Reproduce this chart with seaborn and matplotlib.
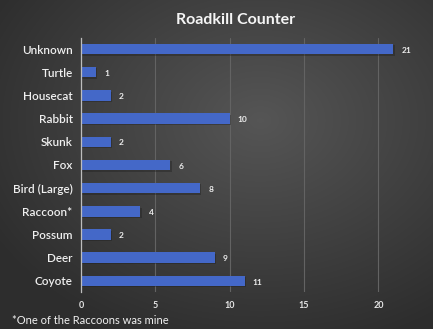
import numpy as np
import pandas as pd
import matplotlib
matplotlib.use("Agg")
import matplotlib.pyplot as plt
import matplotlib.patheffects as pe
import seaborn as sns

animals = ["Unknown", "Turtle", "Housecat", "Rabbit", "Skunk", "Fox",
           "Bird (Large)", "Raccoon*", "Possum", "Deer", "Coyote"]
counts = [21, 1, 2, 10, 2, 6, 8, 4, 2, 9, 11]
x_ticks = [0, 5, 10, 15, 20]
title = "Roadkill Counter"
footnote = "*One of the Raccoons was mine"

df = pd.DataFrame({"animal": animals, "count": counts})

sns.set_theme(style="dark")
plt.rcParams["font.family"] = ["Lato", "DejaVu Sans"]

fig = plt.figure(figsize=(4.33, 3.29), dpi=100)

# background gradient
bg = fig.add_axes([0, 0, 1, 1], zorder=-10)
yy, xx = np.mgrid[0:329, 0:433]
cx, cy = 260, 120
d = np.sqrt(((xx - cx) / 433) ** 2 + ((yy - cy) / 329) ** 2)
val = 0.335 - 0.22 * d
val = np.clip(val, 0.18, 0.34)
img = np.dstack([val, val, val])
bg.imshow(img, aspect="auto", extent=[0, 1, 0, 1])
bg.set_axis_off()

ax = fig.add_axes([81 / 433, 0.111, (423 - 81) / 433, 0.775])
ax.set_facecolor("none")

sns.barplot(data=df, x="count", y="animal", orient="h", color="#4468c8",
            width=0.45, saturation=1, ax=ax, edgecolor="none")
for p in ax.patches:
    p.set_path_effects([pe.SimplePatchShadow(offset=(1, -1), shadow_rgbFace="#1a1a1a", alpha=0.35),
                        pe.Normal()])

ax.set_xlim(0, 23)
ax.set_ylim(len(animals) - 0.5, -0.5)
ax.set_xticks(x_ticks)
ax.set_xticklabels([str(t) for t in x_ticks], color="#e6e6e6", fontsize=6.5, fontweight="bold")
ax.tick_params(axis="y", colors="#eeeeee", labelsize=8.5, length=0, pad=6)
ax.tick_params(axis="x", length=0, pad=6)
for lbl in ax.get_yticklabels():
    lbl.set_color("#f0f0f0")
    lbl.set_fontweight("semibold")
ax.set_xlabel("")
ax.set_ylabel("")
ax.grid(axis="x", color="#636363", linewidth=0.8)
ax.grid(axis="y", visible=False)
ax.set_axisbelow(True)
for s in ["top", "right", "bottom"]:
    ax.spines[s].set_visible(False)
ax.spines["left"].set_color("#bdbdbd")
ax.spines["left"].set_linewidth(0.9)

for i, c in enumerate(counts):
    ax.text(c + 0.55, i + 0.05, str(c), va="center", ha="left",
            color="#eeeeee", fontsize=6, fontweight="bold")

fig.text(236 / 433, 1 - 20 / 329, title, ha="center", va="center",
         color="#f5f5f5", fontsize=11.5, fontweight="bold")
fig.text(12 / 433, 1 - 320 / 329, footnote, ha="left", va="center",
         color="#f0f0f0", fontsize=8)

fig.savefig("out.png", dpi=100)
